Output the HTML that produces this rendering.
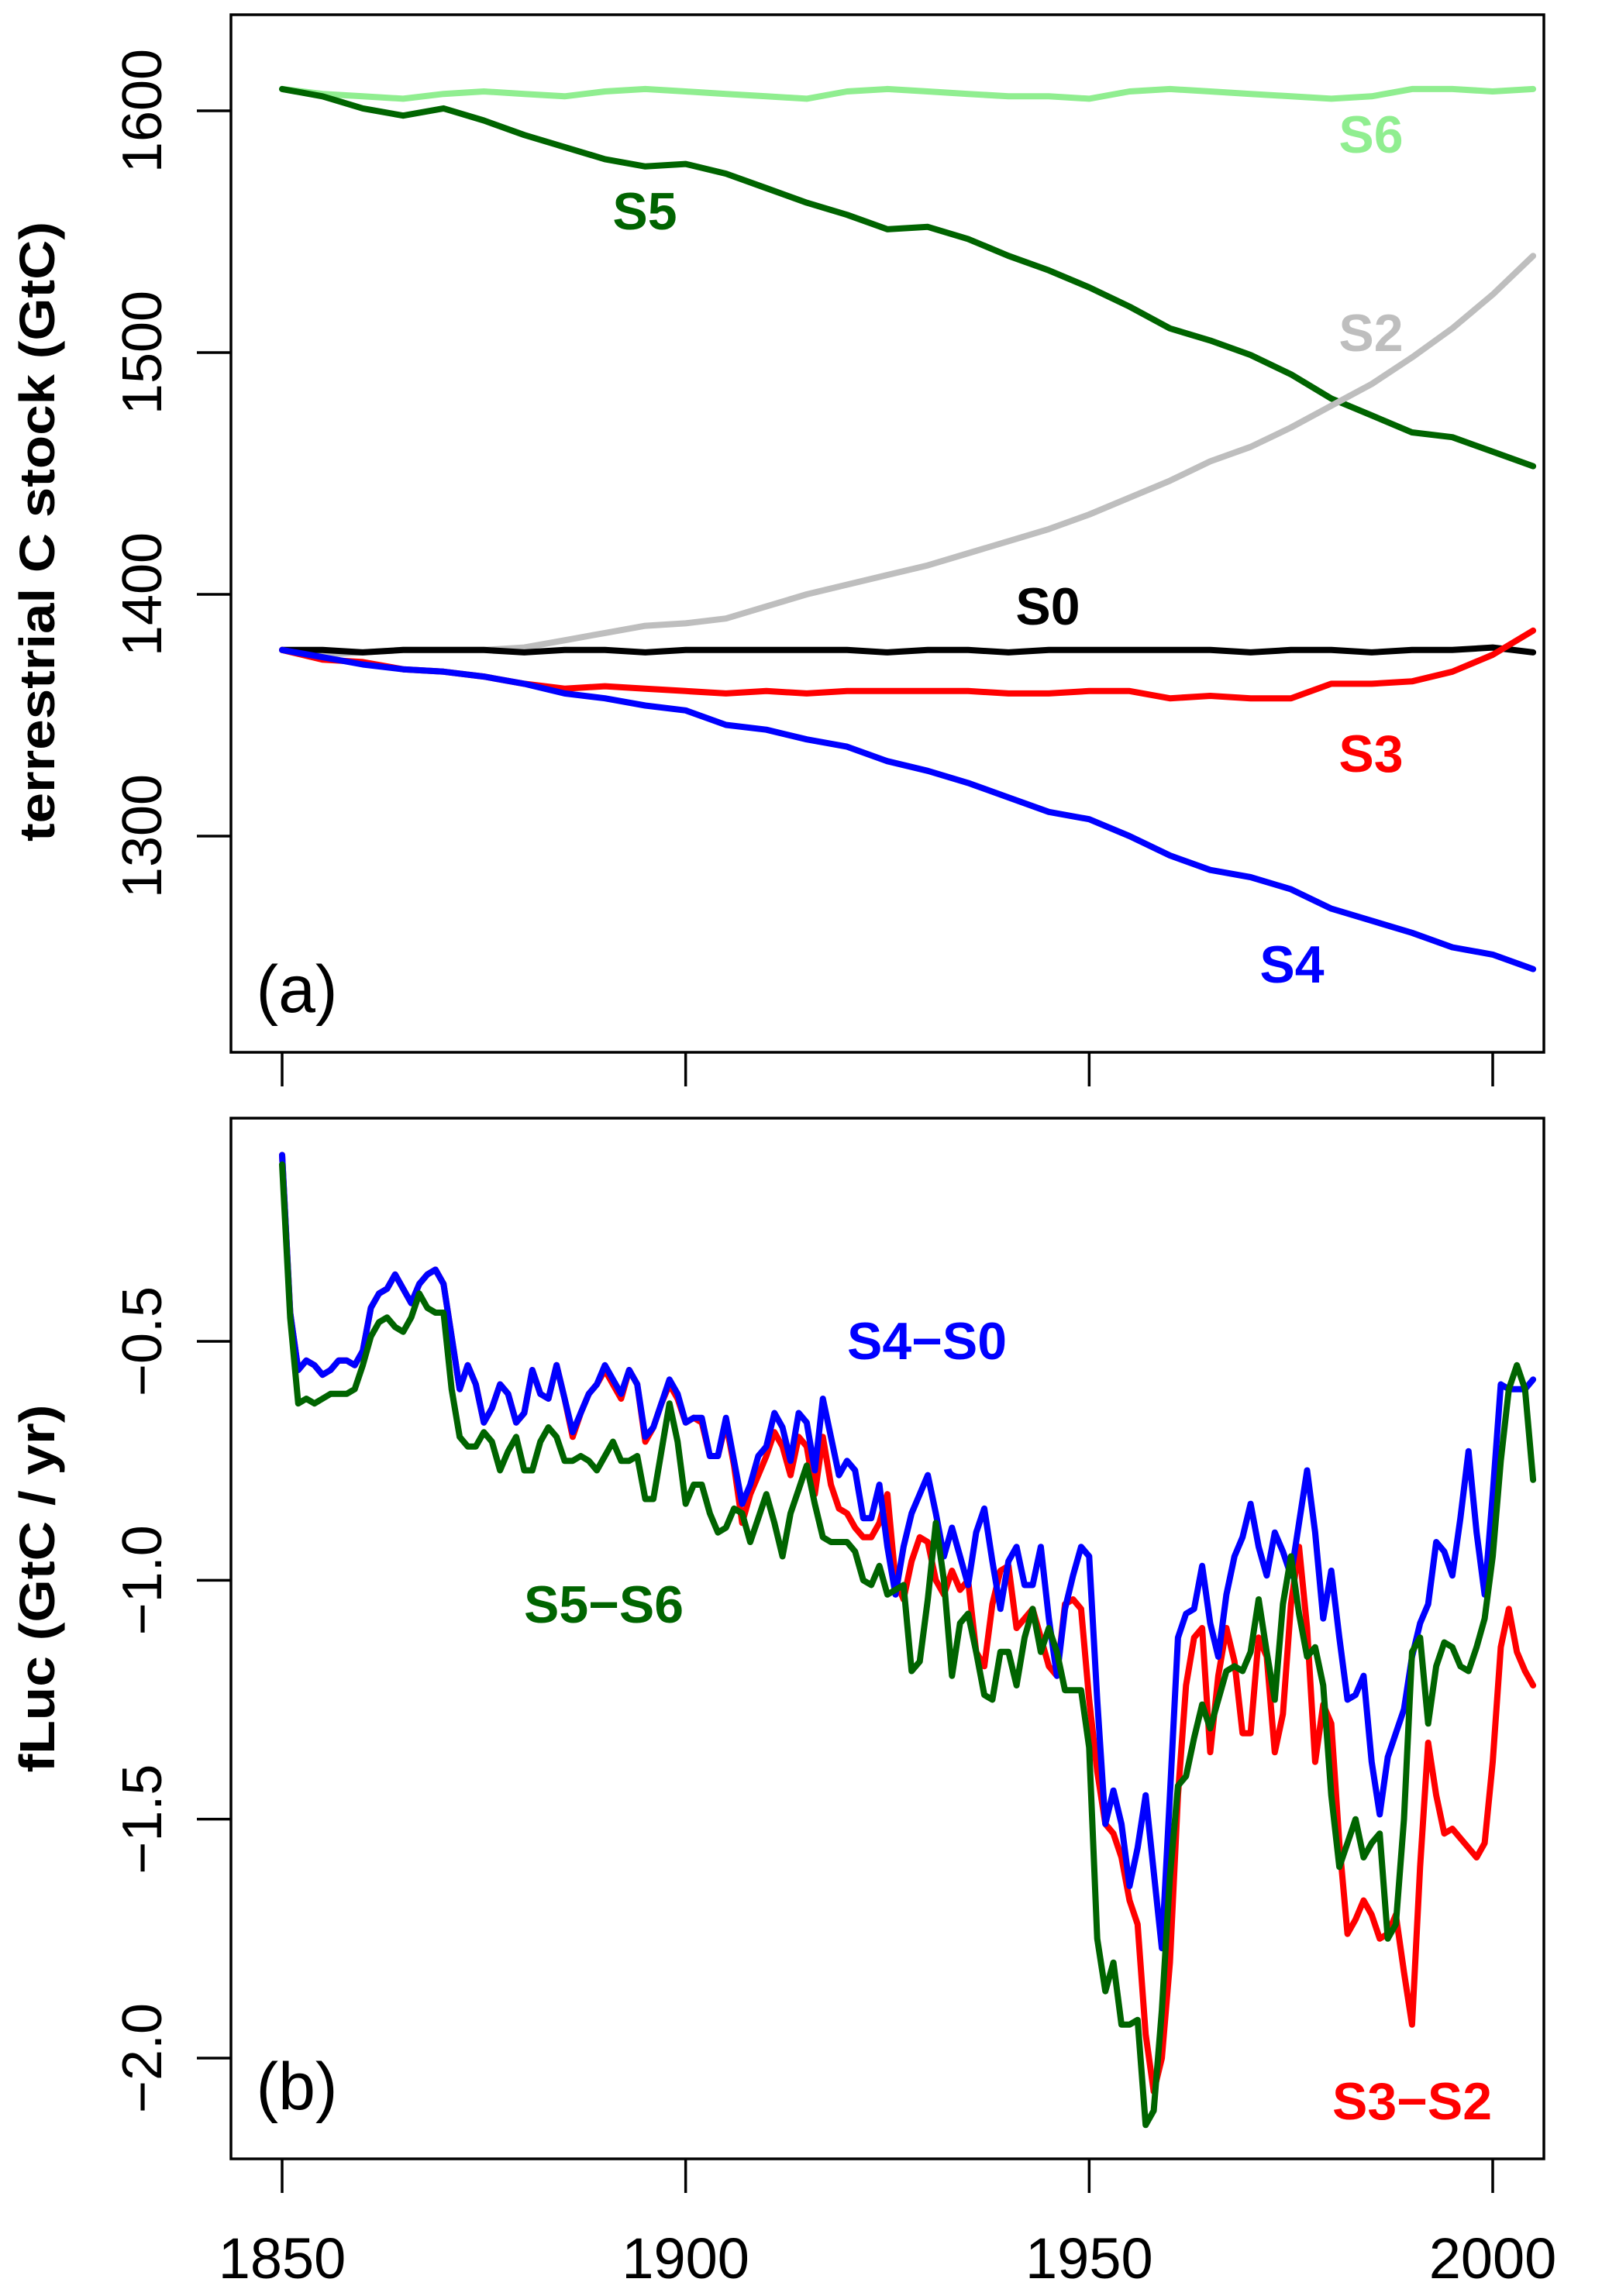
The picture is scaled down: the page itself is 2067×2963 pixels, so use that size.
<!DOCTYPE html>
<html><head><meta charset="utf-8">
<style>
html,body{margin:0;padding:0;background:#fff;}
svg{display:block;font-family:"Liberation Sans",Arial,sans-serif;}
</style></head>
<body>
<svg id="chart" width="2067" height="2963" viewBox="0 0 2067 2963" xmlns="http://www.w3.org/2000/svg">
<rect x="0" y="0" width="2067" height="2963" fill="#fff"/>
<g id="panelA"></g>
<g id="panelB"></g>
</svg>
<script>
// ---- Panel (a) data: terrestrial C stock, every 5 years
const yearsA = [1850,1855,1860,1865,1870,1875,1880,1885,1890,1895,1900,1905,1910,1915,1920,1925,1930,1935,1940,1945,1950,1955,1960,1965,1970,1975,1980,1985,1990,1995,2000,2005];
const s0 = [1377,1377,1376,1377,1377,1377,1376,1377,1377,1376,1377,1377,1377,1377,1377,1376,1377,1377,1376,1377,1377,1377,1377,1377,1376,1377,1377,1376,1377,1377,1378,1376];
const s6 = [1609,1607,1606,1605,1607,1608,1607,1606,1608,1609,1608,1607,1606,1605,1608,1609,1608,1607,1606,1606,1605,1608,1609,1608,1607,1606,1605,1606,1609,1609,1608,1609];
const s5 = [1609,1606,1601,1598,1601,1596,1590,1585,1580,1577,1578,1574,1568,1562,1557,1551,1552,1547,1540,1534,1527,1519,1510,1505,1499,1491,1481,1474,1467,1465,1459,1453];
const s2 = [1377,1375,1376,1377,1377,1377,1378,1381,1384,1387,1388,1390,1395,1400,1404,1408,1412,1417,1422,1427,1433,1440,1447,1455,1461,1469,1478,1487,1498,1510,1524,1540];
const s3 = [1377,1373,1372,1369,1368,1366,1363,1361,1362,1361,1360,1359,1360,1359,1360,1360,1360,1360,1359,1359,1360,1360,1357,1358,1357,1357,1363,1363,1364,1368,1375,1385];
const s4 = [1377,1374,1371,1369,1368,1366,1363,1359,1357,1354,1352,1346,1344,1340,1337,1331,1327,1322,1316,1310,1307,1300,1292,1286,1283,1278,1270,1265,1260,1254,1251,1245];
const yTicksA = [1300,1400,1500,1600];
const xTicks = [1850,1900,1950,2000];

// ---- Panel (b) data: fLuc annual, 1850..2005
const startYearB = 1850;
const s4minusS0 = [-0.11,-0.44,-0.56,-0.54,-0.55,-0.57,-0.56,-0.54,-0.54,-0.55,-0.52,-0.43,-0.40,-0.39,-0.36,-0.39,-0.42,-0.38,-0.36,-0.35,-0.38,-0.49,-0.60,-0.55,-0.59,-0.67,-0.64,-0.59,-0.61,-0.67,-0.65,-0.56,-0.61,-0.62,-0.55,-0.62,-0.69,-0.65,-0.61,-0.59,-0.55,-0.58,-0.61,-0.56,-0.59,-0.70,-0.68,-0.63,-0.58,-0.61,-0.67,-0.66,-0.66,-0.74,-0.74,-0.66,-0.75,-0.84,-0.80,-0.74,-0.72,-0.65,-0.68,-0.75,-0.65,-0.67,-0.77,-0.62,-0.70,-0.78,-0.75,-0.77,-0.87,-0.87,-0.80,-0.93,-1.03,-0.93,-0.86,-0.82,-0.78,-0.86,-0.95,-0.89,-0.95,-1.01,-0.90,-0.85,-0.96,-1.06,-0.96,-0.93,-1.01,-1.01,-0.93,-1.08,-1.20,-1.06,-0.99,-0.93,-0.95,-1.25,-1.51,-1.44,-1.51,-1.64,-1.56,-1.45,-1.61,-1.77,-1.45,-1.12,-1.07,-1.06,-0.97,-1.09,-1.16,-1.03,-0.95,-0.91,-0.84,-0.93,-0.99,-0.90,-0.94,-0.99,-0.88,-0.77,-0.90,-1.08,-0.98,-1.12,-1.25,-1.24,-1.20,-1.38,-1.49,-1.37,-1.32,-1.27,-1.16,-1.09,-1.05,-0.92,-0.94,-0.99,-0.87,-0.73,-0.90,-1.03,-0.82,-0.59,-0.60,-0.60,-0.60,-0.58];
const s3minusS2 = [-0.11,-0.44,-0.56,-0.54,-0.55,-0.57,-0.56,-0.54,-0.54,-0.55,-0.52,-0.43,-0.40,-0.39,-0.36,-0.39,-0.42,-0.38,-0.36,-0.35,-0.38,-0.49,-0.60,-0.55,-0.59,-0.67,-0.64,-0.59,-0.61,-0.67,-0.65,-0.56,-0.61,-0.62,-0.55,-0.62,-0.70,-0.65,-0.61,-0.59,-0.56,-0.59,-0.62,-0.56,-0.59,-0.71,-0.68,-0.63,-0.59,-0.62,-0.67,-0.66,-0.67,-0.74,-0.74,-0.67,-0.76,-0.88,-0.82,-0.78,-0.74,-0.69,-0.72,-0.78,-0.70,-0.72,-0.82,-0.70,-0.80,-0.85,-0.86,-0.89,-0.91,-0.91,-0.88,-0.82,-1.00,-1.04,-0.96,-0.91,-0.92,-1.00,-1.03,-0.98,-1.02,-1.00,-1.15,-1.18,-1.05,-0.98,-0.97,-1.10,-1.08,-1.06,-1.12,-1.18,-1.20,-1.05,-1.04,-1.06,-1.25,-1.40,-1.51,-1.53,-1.58,-1.67,-1.72,-1.95,-2.07,-2.00,-1.80,-1.45,-1.22,-1.12,-1.10,-1.36,-1.20,-1.10,-1.17,-1.32,-1.32,-1.12,-1.16,-1.36,-1.28,-1.05,-0.93,-1.10,-1.38,-1.26,-1.30,-1.55,-1.74,-1.71,-1.67,-1.70,-1.75,-1.74,-1.70,-1.82,-1.93,-1.60,-1.34,-1.45,-1.53,-1.52,-1.54,-1.56,-1.58,-1.55,-1.38,-1.14,-1.06,-1.15,-1.19,-1.22];
const s5minusS6 = [-0.13,-0.45,-0.63,-0.62,-0.63,-0.62,-0.61,-0.61,-0.61,-0.60,-0.55,-0.49,-0.46,-0.45,-0.47,-0.48,-0.45,-0.40,-0.43,-0.44,-0.44,-0.60,-0.70,-0.72,-0.72,-0.69,-0.71,-0.77,-0.73,-0.70,-0.77,-0.77,-0.71,-0.68,-0.70,-0.75,-0.75,-0.74,-0.75,-0.77,-0.74,-0.71,-0.75,-0.75,-0.74,-0.83,-0.83,-0.73,-0.63,-0.71,-0.84,-0.80,-0.80,-0.86,-0.90,-0.89,-0.85,-0.86,-0.92,-0.87,-0.82,-0.88,-0.95,-0.86,-0.81,-0.76,-0.84,-0.91,-0.92,-0.92,-0.92,-0.94,-1.00,-1.01,-0.97,-1.03,-1.02,-1.01,-1.19,-1.17,-1.04,-0.88,-1.00,-1.20,-1.09,-1.07,-1.15,-1.24,-1.25,-1.15,-1.15,-1.22,-1.12,-1.06,-1.15,-1.10,-1.15,-1.23,-1.23,-1.23,-1.35,-1.75,-1.86,-1.80,-1.93,-1.93,-1.92,-2.14,-2.11,-1.90,-1.62,-1.43,-1.41,-1.33,-1.26,-1.31,-1.25,-1.19,-1.18,-1.19,-1.15,-1.04,-1.15,-1.25,-1.05,-0.95,-1.07,-1.16,-1.14,-1.22,-1.45,-1.60,-1.55,-1.50,-1.58,-1.55,-1.53,-1.75,-1.72,-1.50,-1.15,-1.12,-1.30,-1.18,-1.13,-1.14,-1.18,-1.19,-1.14,-1.08,-0.95,-0.75,-0.60,-0.55,-0.60,-0.79];
const yTicksB = [-2.0,-1.5,-1.0,-0.5];
const yTickLabelsB = ["\u22122.0","\u22121.5","\u22121.0","\u22120.5"];

const NS = "http://www.w3.org/2000/svg";
function mk(parent, tag, attrs, text){
  const el = document.createElementNS(NS, tag);
  for (const k in attrs) el.setAttribute(k, attrs[k]);
  if (text !== undefined) el.textContent = text;
  parent.appendChild(el);
  return el;
}
const xScale = yr => 364 + (yr - 1850) * (1926 - 364) / 150;
const yA = v => 143 + (1600 - v) * (1079 - 143) / 300;
const yB = v => 1731 + (-0.5 - v) * (2656 - 1731) / 1.5;

const gA = document.getElementById('panelA');
const gB = document.getElementById('panelB');

function frame(g, top, bottom, nameSuffix){
  const r = mk(g, 'rect', {x:298, y:top, width:1694, height:bottom-top, fill:'none', stroke:'#000', 'stroke-width':3.5});
  
  
  xTicks.forEach(t => {
    const l = mk(g, 'line', {x1:xScale(t), x2:xScale(t), y1:bottom, y2:bottom+44, stroke:'#000', 'stroke-width':3.5});
    
    
  });
}
frame(gA, 19, 1358, 'a');
frame(gB, 1443, 2786, 'b');

yTicksA.forEach(t => {
  const y = yA(t);
  const l = mk(gA, 'line', {x1:254, x2:298, y1:y, y2:y, stroke:'#000', 'stroke-width':3.5});
  
  
  const tx = mk(gA, 'text', {x:0, y:0, transform:`translate(208,${y}) rotate(-90)`, 'text-anchor':'middle', 'font-size':72, fill:'#000'}, String(t));
  
  
});
yTicksB.forEach((t, i) => {
  const y = yB(t);
  const l = mk(gB, 'line', {x1:254, x2:298, y1:y, y2:y, stroke:'#000', 'stroke-width':3.5});
  
  
  const tx = mk(gB, 'text', {x:0, y:0, transform:`translate(208,${y}) rotate(-90)`, 'text-anchor':'middle', 'font-size':72, fill:'#000'}, yTickLabelsB[i]);
  
  
});
xTicks.forEach(t => {
  const tx = mk(gB, 'text', {x:xScale(t), y:2940, 'text-anchor':'middle', 'font-size':74, fill:'#000'}, String(t));
  
  
});
const tA = mk(gA, 'text', {x:0, y:0, transform:'translate(70,686) rotate(-90)', 'text-anchor':'middle', 'font-size':64, 'font-weight':'bold', textLength:800, lengthAdjust:'spacingAndGlyphs'}, 'terrestrial C stock (GtC)');


const tB = mk(gB, 'text', {x:0, y:0, transform:'translate(70,2050) rotate(-90)', 'text-anchor':'middle', 'font-size':64, 'font-weight':'bold', textLength:475, lengthAdjust:'spacingAndGlyphs'}, 'fLuc (GtC / yr)');



function line(g, xs, vals, yf, color, name){
  const pts = vals.map((v, i) => xScale(xs(i)).toFixed(1) + ',' + yf(v).toFixed(1)).join(' ');
  const p = mk(g, 'polyline', {points:pts, fill:'none', stroke:color, 'stroke-width':8, 'stroke-linejoin':'round', 'stroke-linecap':'round'});
  
  
}
const xa = i => yearsA[i];
line(gA, xa, s6, yA, '#90EE90', 'line-s6');
line(gA, xa, s5, yA, '#006400', 'line-s5');
line(gA, xa, s2, yA, '#BEBEBE', 'line-s2');
line(gA, xa, s0, yA, '#000000', 'line-s0');
line(gA, xa, s3, yA, '#FF0000', 'line-s3');
line(gA, xa, s4, yA, '#0000FF', 'line-s4');

const xb = i => startYearB + i;
line(gB, xb, s3minusS2, yB, '#FF0000', 'line-s3-minus-s2');
line(gB, xb, s4minusS0, yB, '#0000FF', 'line-s4-minus-s0');
line(gB, xb, s5minusS6, yB, '#006400', 'line-s5-minus-s6');

function label(g, x, y, txt, color, name, size, weight){
  const t = mk(g, 'text', {x:x, y:y, 'text-anchor':'middle', 'dominant-baseline':'central', 'font-size':size, 'font-weight':weight, fill:color}, txt);
  
  
}
label(gA, 1769, 174, 'S6', '#90EE90', 'label-s6', 68, 'bold');
label(gA, 832, 273, 'S5', '#006400', 'label-s5', 68, 'bold');
label(gA, 1769, 430, 'S2', '#BEBEBE', 'label-s2', 68, 'bold');
label(gA, 1352, 783, 'S0', '#000000', 'label-s0', 68, 'bold');
label(gA, 1769, 973, 'S3', '#FF0000', 'label-s3', 68, 'bold');
label(gA, 1667, 1245, 'S4', '#0000FF', 'label-s4', 68, 'bold');
label(gA, 383, 1277, '(a)', '#000', 'panel-label-a', 86, 'normal');
label(gB, 1196, 1731, 'S4\u2212S0', '#0000FF', 'label-s4-s0', 68, 'bold');
label(gB, 779, 2071, 'S5\u2212S6', '#006400', 'label-s5-s6', 68, 'bold');
label(gB, 1822, 2712, 'S3\u2212S2', '#FF0000', 'label-s3-s2', 68, 'bold');
label(gB, 383, 2693, '(b)', '#000', 'panel-label-b', 86, 'normal');
</script>
</body></html>
